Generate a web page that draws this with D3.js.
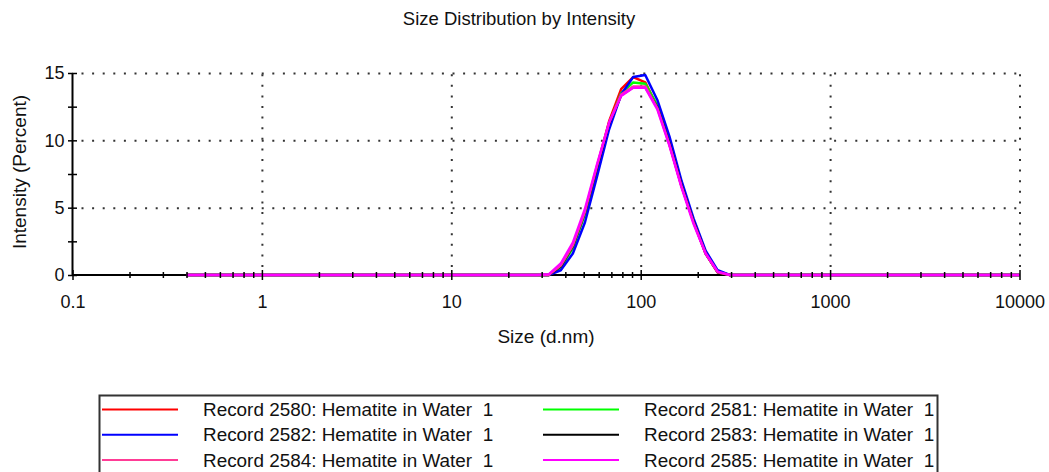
<!DOCTYPE html>
<html>
<head>
<meta charset="utf-8">
<script src="https://cdn.jsdelivr.net/npm/d3@7"></script>
<style>
  body { margin: 0; background: #fff; }
  svg { display: block; font-family: Arial, "Liberation Sans", sans-serif; }
  svg text { white-space: pre; }
</style>
</head>
<body>
<svg></svg>
<script>
// size classes (d.nm), 70 log spaced bins
const sizes = [0.4, 0.4632, 0.5365, 0.6213, 0.7195, 0.8332, 0.9649, 1.117, 1.294, 1.499,
  1.736, 2.01, 2.328, 2.696, 3.122, 3.615, 4.187, 4.849, 5.615, 6.503,
  7.531, 8.721, 10.1, 11.7, 13.54, 15.69, 18.17, 21.04, 24.36, 28.21,
  32.67, 37.84, 43.82, 50.75, 58.77, 68.06, 78.82, 91.28, 105.7, 122.4,
  141.8, 164.2, 190.1, 220.2, 255.0, 295.3, 342.0, 396.1, 458.7, 531.2,
  615.1, 712.4, 825.0, 955.4, 1106, 1281, 1484, 1718, 1990, 2305,
  2669, 3091, 3580, 4145, 4801, 5560, 6439, 7456, 8635, 10000];

// intensity (%) per record
const rec2580 = [0,0,0,0,0,0,0,0,0,0, 0,0,0,0,0,0,0,0,0,0, 0,0,0,0,0,0,0,0,0,0,
  0, 0.65,2.1,4.6,8.0,11.4,13.8,14.7,14.3,12.5, 9.7,6.6,4.0,1.6,0.2,
  0,0,0,0,0, 0,0,0,0,0,0,0,0,0,0, 0,0,0,0,0,0,0,0,0,0];
const rec2581 = [0,0,0,0,0,0,0,0,0,0, 0,0,0,0,0,0,0,0,0,0, 0,0,0,0,0,0,0,0,0,0,
  0, 0.55,2.0,4.5,7.9,11.2,13.5,14.3,14.2,12.6, 9.8,6.7,4.0,1.7,0.25,
  0,0,0,0,0, 0,0,0,0,0,0,0,0,0,0, 0,0,0,0,0,0,0,0,0,0];
const rec2582 = [0,0,0,0,0,0,0,0,0,0, 0,0,0,0,0,0,0,0,0,0, 0,0,0,0,0,0,0,0,0,0,
  0, 0.35,1.6,3.9,7.3,10.8,13.4,14.7,14.85,13.0, 10.3,7.0,4.2,1.8,0.35,
  0,0,0,0,0, 0,0,0,0,0,0,0,0,0,0, 0,0,0,0,0,0,0,0,0,0];
const rec2583 = [0,0,0,0,0,0,0,0,0,0, 0,0,0,0,0,0,0,0,0,0, 0,0,0,0,0,0,0,0,0,0,
  0, 0.65,2.15,4.65,8.0,11.25,13.35,13.95,13.95,12.45, 9.75,6.65,3.95,1.6,0.2,
  0,0,0,0,0, 0,0,0,0,0,0,0,0,0,0, 0,0,0,0,0,0,0,0,0,0];
const rec2584 = [0,0,0,0,0,0,0,0,0,0, 0,0,0,0,0,0,0,0,0,0, 0,0,0,0,0,0,0,0,0,0,
  0, 0.7,2.2,4.7,8.1,11.3,13.4,14.0,14.0,12.4, 9.7,6.6,3.9,1.6,0.2,
  0,0,0,0,0, 0,0,0,0,0,0,0,0,0,0, 0,0,0,0,0,0,0,0,0,0];
const rec2585 = [0,0,0,0,0,0,0,0,0,0, 0,0,0,0,0,0,0,0,0,0, 0,0,0,0,0,0,0,0,0,0,
  0.05, 0.85,2.4,4.9,8.2,11.3,13.3,13.9,13.9,12.3, 9.6,6.5,3.8,1.6,0.25,
  0,0,0,0,0, 0,0,0,0,0,0,0,0,0,0, 0,0,0,0,0,0,0,0,0,0];

const recordNames = ["Record 2580: Hematite in Water  1", "Record 2581: Hematite in Water  1",
  "Record 2582: Hematite in Water  1", "Record 2583: Hematite in Water  1",
  "Record 2584: Hematite in Water  1", "Record 2585: Hematite in Water  1"];
const recordColors = ["#ff0000", "#00ff00", "#0000ff", "#000000", "#ff3c96", "#ff00ff"];
const records = [rec2580, rec2581, rec2582, rec2583, rec2584, rec2585];

const xTicks = [0.1, 1, 10, 100, 1000, 10000];
const xTickLabels = ["0.1", "1", "10", "100", "1000", "10000"];
const xMinorTicks = [0.2, 0.3, 0.4, 0.5, 0.6, 0.7, 0.8, 0.9, 2, 3, 4, 5, 6, 7, 8, 9,
  20, 30, 40, 50, 60, 70, 80, 90, 200, 300, 400, 500, 600, 700, 800, 900,
  2000, 3000, 4000, 5000, 6000, 7000, 8000, 9000];
const yTicks = [0, 5, 10, 15];
const yMinorTicks = [2.5, 7.5, 12.5];

const width = 1049;
const height = 472;
const plotLeft = 72.5, plotRight = 1019.5, plotTop = 73, plotBottom = 275;
const fontSize = "18px";
const textColor = "#111";

let svg = d3.select("svg")
  .attr("width", width)
  .attr("height", height);

let xScale = d3.scaleLog()
  .domain([0.1, 10000])
  .range([plotLeft, plotRight]);

let yScale = d3.scaleLinear()
  .domain([0, 15])
  .range([plotBottom, plotTop]);

// dotted grid, drawn with axes like gridlines
let xGrid = d3.axisBottom(xScale)
  .tickValues(xTicks.slice(1))
  .tickSize(-(plotBottom - plotTop))
  .tickFormat("");
let yGrid = d3.axisLeft(yScale)
  .tickValues(yTicks.slice(1))
  .tickSize(-(plotRight - plotLeft))
  .tickFormat("");

svg.append("g")
  .attr("transform", `translate(0, ${plotBottom})`)
  .call(xGrid)
  .call(g => g.select(".domain").remove())
  .selectAll("line")
    .attr("stroke", "#333")
    .attr("stroke-width", 2)
    .attr("stroke-dasharray", "2 8.6")
    .attr("stroke-dashoffset", -8);

svg.append("g")
  .attr("transform", `translate(${plotLeft}, 0)`)
  .call(yGrid)
  .call(g => g.select(".domain").remove())
  .selectAll("line")
    .attr("stroke", "#333")
    .attr("stroke-width", 2)
    .attr("stroke-dasharray", "2 8.6")
    .attr("stroke-dashoffset", -9);

// axis lines go under the curves
svg.append("line")
  .attr("x1", xScale(0.1)).attr("x2", xScale(10000))
  .attr("y1", yScale(0)).attr("y2", yScale(0))
  .attr("stroke", "#000").attr("stroke-width", 2);
svg.append("line")
  .attr("x1", xScale(0.1)).attr("x2", xScale(0.1))
  .attr("y1", yScale(0)).attr("y2", yScale(15))
  .attr("stroke", "#000").attr("stroke-width", 2);

// curves, last record on top
let line = d3.line()
  .x((d, i) => xScale(sizes[i]))
  .y(d => yScale(d));

svg.selectAll("path.record")
  .data(records)
  .enter()
  .append("path")
    .classed("record", true)
    .attr("d", line)
    .attr("fill", "none")
    .attr("stroke", (d, i) => recordColors[i])
    .attr("stroke-width", 2.5)
    .attr("stroke-linejoin", "round");

// tick marks crossing the axes
let xMajor = d3.axisBottom(xScale).tickValues(xTicks).tickSize(10).tickFormat("");
let xMinor = d3.axisBottom(xScale).tickValues(xMinorTicks).tickSize(6).tickFormat("");
let yMarks = d3.axisLeft(yScale).tickValues(yTicks.concat(yMinorTicks)).tickSize(9).tickFormat("");

svg.append("g").attr("transform", `translate(0, ${plotBottom - 5})`).call(xMajor)
  .call(g => g.select(".domain").remove());
svg.append("g").attr("transform", `translate(0, ${plotBottom - 3})`).call(xMinor)
  .call(g => g.select(".domain").remove());
svg.append("g").attr("transform", `translate(${plotLeft + 4.5}, 0)`).call(yMarks)
  .call(g => g.select(".domain").remove());
svg.selectAll("g.tick line").filter(function() { return !this.getAttribute("stroke-dasharray"); })
  .attr("stroke", "#000").attr("stroke-width", 1.5);

// tick labels
let xLabels = d3.axisBottom(xScale)
  .tickValues(xTicks)
  .tickSize(0)
  .tickPadding(20)
  .tickFormat((d, i) => xTickLabels[i]);
let yLabels = d3.axisLeft(yScale)
  .tickValues(yTicks)
  .tickSize(0)
  .tickPadding(8)
  .tickFormat(d3.format("d"));

svg.append("g")
  .attr("transform", `translate(0, ${plotBottom})`)
  .call(xLabels)
  .call(g => g.select(".domain").remove())
  .selectAll("text")
    .style("font-size", fontSize)
    .style("font-family", "Arial, 'Liberation Sans', sans-serif")
    .attr("fill", textColor);

svg.append("g")
  .attr("transform", `translate(${plotLeft}, 0)`)
  .call(yLabels)
  .call(g => g.select(".domain").remove())
  .selectAll("text")
    .style("font-size", fontSize)
    .style("font-family", "Arial, 'Liberation Sans', sans-serif")
    .attr("fill", textColor);

// titles
svg.append("text")
  .attr("x", 519)
  .attr("y", 25)
  .style("text-anchor", "middle")
  .style("font-size", "18.5px")
  .attr("fill", textColor)
  .text("Size Distribution by Intensity");

svg.append("text")
  .attr("x", 546)
  .attr("y", 343)
  .style("text-anchor", "middle")
  .style("font-size", "19px")
  .attr("fill", textColor)
  .text("Size (d.nm)");

svg.append("text")
  .attr("transform", "rotate(-90)")
  .attr("x", -172)
  .attr("y", 26)
  .style("text-anchor", "middle")
  .style("font-size", "19px")
  .attr("fill", textColor)
  .text("Intensity (Percent)");

// legend, two columns, runs off the bottom edge
let legend = svg.append("g");
legend.append("rect")
  .attr("x", 99.5)
  .attr("y", 395.5)
  .attr("width", 838)
  .attr("height", 110)
  .attr("fill", "none")
  .attr("stroke", "#333")
  .attr("stroke-width", 2);

let item = legend.selectAll("g.item")
  .data(recordNames)
  .enter()
  .append("g")
    .classed("item", true)
    .attr("transform", (d, i) => `translate(${i % 2 ? 543 : 102}, ${409.5 + 25.3 * Math.floor(i / 2)})`);

item.append("line")
  .attr("x1", 0).attr("x2", 76)
  .attr("stroke", (d, i) => recordColors[i])
  .attr("stroke-width", 2);

item.append("text")
  .attr("x", 101)
  .attr("y", 6.5)
  .style("font-size", "18.9px")
  .attr("fill", textColor)
  .text(d => d);
</script>
</body>
</html>
